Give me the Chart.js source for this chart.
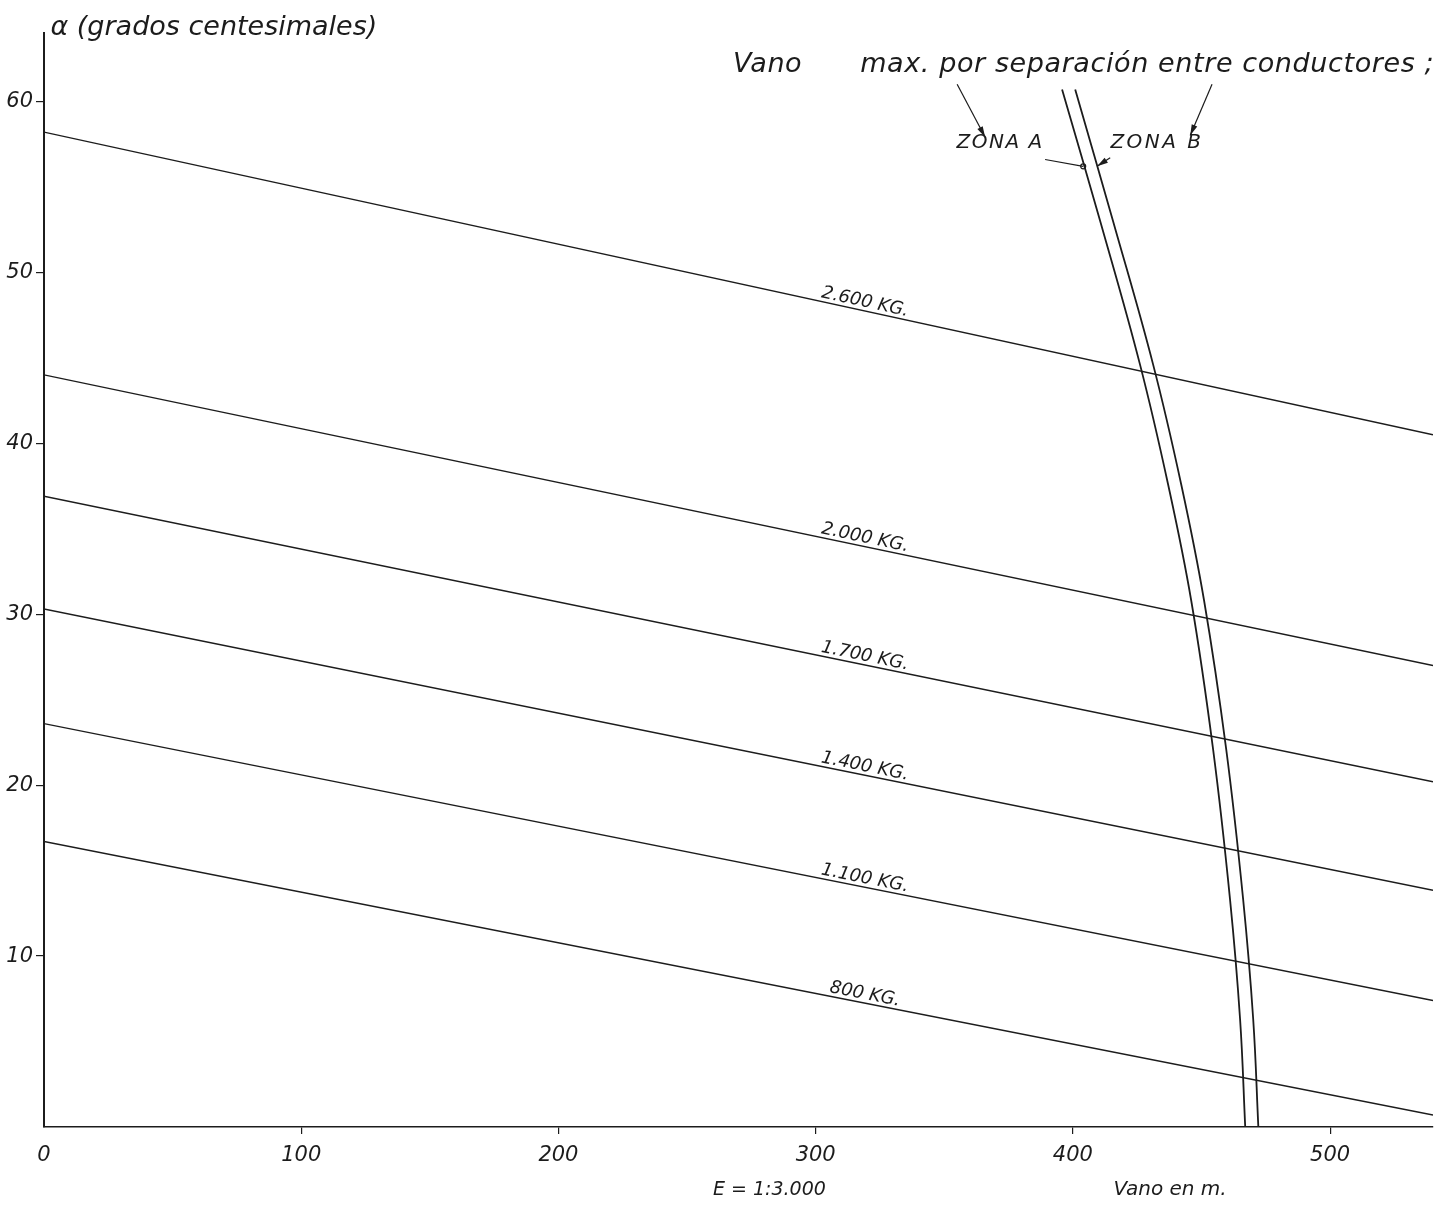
<!DOCTYPE html>
<html>
<head>
<meta charset="utf-8">
<script src="https://cdn.jsdelivr.net/npm/chart.js@4.4.1/dist/chart.umd.min.js"></script>
<style>
  html, body { margin: 0; padding: 0; background: #ffffff; }
  #wrap { width: 1442px; height: 1208px; position: relative; }
</style>
</head>
<body>
<div id="wrap"><canvas id="chart"></canvas></div>
<script>
// Span (m) at the two ends of every tension line
const spanEnds = [0, 540];

// Tension lines: angle α (grados centesimales) at span 0 m and at span 540 m
const tensionLabels = ['2.600 KG.', '2.000 KG.', '1.700 KG.', '1.400 KG.', '1.100 KG.', '800 KG.'];
const alphaAtStart  = [58.2, 44.0, 36.9, 30.3, 23.6, 16.7];
const alphaAtEnd    = [40.5, 27.0, 20.2, 13.85, 7.4, 0.7];

// Maximum span allowed by conductor separation, zone A and zone B
const zoneASpan  = [395.8, 410.6, 426.1, 437.0, 446.0, 454.5, 461.1, 465.0, 467.0];
const zoneAAlpha = [60.7, 53.0, 44.6, 37.6, 30.8, 22.1, 13.3, 6.3, 0];
const zoneBSpan  = [400.9, 415.6, 431.2, 442.1, 451.0, 459.6, 466.2, 470.1, 472.1];
const zoneBAlpha = [60.7, 53.0, 44.6, 37.6, 30.8, 22.1, 13.3, 6.3, 0];

// Axis ticks
const xTicks = [0, 100, 200, 300, 400, 500];
const yTicks = [10, 20, 30, 40, 50, 60];

const INK = '#1c1c1c';
const FAMILY = '"DejaVu Sans", "Liberation Sans", sans-serif';

const datasets = tensionLabels.map((name, i) => ({
  label: name,
  tensionLine: true,
  data: spanEnds.map((x, j) => ({ x, y: j === 0 ? alphaAtStart[i] : alphaAtEnd[i] })),
  showLine: true,
  borderColor: INK,
  borderWidth: 1.4,
  pointRadius: 0
}));

datasets.push({
  label: 'ZONA A',
  data: zoneASpan.map((x, i) => ({ x, y: zoneAAlpha[i] })),
  showLine: true, borderColor: INK, borderWidth: 1.8, pointRadius: 0, tension: 0.4
});
datasets.push({
  label: 'ZONA B',
  data: zoneBSpan.map((x, i) => ({ x, y: zoneBAlpha[i] })),
  showLine: true, borderColor: INK, borderWidth: 1.8, pointRadius: 0, tension: 0.4
});

// Labels, captions and pointers drawn on top of the plot
const notes = {
  id: 'notes',
  afterDatasetsDraw(chart) {
    const { ctx, scales: { x, y } } = chart;
    const px = v => x.getPixelForValue(v);
    const py = v => y.getPixelForValue(v);
    ctx.save();
    ctx.fillStyle = INK;
    ctx.strokeStyle = INK;

    // tension labels written along each line
    const labelSpan = 318.5;
    chart.data.datasets.forEach(ds => {
      if (!ds.tensionLine) return;
      const a = ds.data[0], b = ds.data[ds.data.length - 1];
      const t = (labelSpan - a.x) / (b.x - a.x);
      const yv = a.y + (b.y - a.y) * t;
      const ang = Math.atan2(py(b.y) - py(a.y), px(b.x) - px(a.x));
      ctx.save();
      ctx.translate(px(labelSpan), py(yv));
      ctx.rotate(ang);
      ctx.font = 'italic 18px ' + FAMILY;
      ctx.textAlign = 'center';
      ctx.textBaseline = 'alphabetic';
      ctx.fillText(ds.label, 0, -4);
      ctx.restore();
    });

    const text = (s, xv, yv, size, align, spacing) => {
      ctx.save();
      ctx.font = 'italic ' + size + 'px ' + FAMILY;
      ctx.textAlign = align || 'center';
      ctx.textBaseline = 'middle';
      if (spacing) ctx.letterSpacing = spacing + 'px';
      ctx.fillText(s, px(xv), py(yv));
      ctx.restore();
    };

    const arrow = (x1, y1, x2, y2, head) => {
      const X1 = px(x1), Y1 = py(y1), X2 = px(x2), Y2 = py(y2);
      ctx.lineWidth = 1.2;
      ctx.beginPath(); ctx.moveTo(X1, Y1); ctx.lineTo(X2, Y2); ctx.stroke();
      const ang = Math.atan2(Y2 - Y1, X2 - X1);
      if (head === 'arrow') {
        const L = 11, W = 3;
        ctx.beginPath();
        ctx.moveTo(X2, Y2);
        ctx.lineTo(X2 - L * Math.cos(ang) + W * Math.sin(ang), Y2 - L * Math.sin(ang) - W * Math.cos(ang));
        ctx.lineTo(X2 - L * Math.cos(ang) - W * Math.sin(ang), Y2 - L * Math.sin(ang) + W * Math.cos(ang));
        ctx.closePath();
        ctx.fill();
      } else if (head === 'dot') {
        ctx.beginPath(); ctx.arc(X2, Y2, 2.5, 0, Math.PI * 2); ctx.stroke();
      }
    };

    // heading over the zone curves
    text('Vano', 267.9, 62.1, 27, 'left', 0.5);
    text('max. por separación entre conductores ;', 317.3, 62.1, 27, 'left', 0.6);
    text('ZONA A', 371.7, 57.6, 20, 'center', 1.5);
    text('ZONA B', 432.7, 57.6, 20, 'center', 2.5);
    arrow(355.0, 61.0, 365.9, 57.9, 'arrow');
    arrow(454.1, 61.0, 445.6, 58.0, 'arrow');
    arrow(389.2, 56.6, 404.0, 56.2, 'dot');
    arrow(414.5, 56.7, 409.4, 56.2, 'arrow');

    // axis captions
    text('α (grados centesimales)', 2.5, 64.3, 27, 'left');
    text('E = 1:3.000', 282.0, -3.7, 19);
    text('Vano en m.', 437.8, -3.7, 20);
    ctx.restore();
  }
};

const tickFont = { family: FAMILY, size: 21, style: 'italic' };

new Chart(document.getElementById('chart'), {
  type: 'scatter',
  data: { datasets },
  options: {
    responsive: true,
    maintainAspectRatio: false,
    animation: false,
    events: [],
    layout: { padding: { top: 33, right: 9, left: 0, bottom: 0 } },
    plugins: { legend: { display: false }, tooltip: { enabled: false } },
    scales: {
      x: {
        type: 'linear', min: 0, max: 540,
        afterBuildTicks: s => { s.ticks = xTicks.map(v => ({ value: v })); },
        afterFit: s => { s.height = 81; },
        grid: {
          drawOnChartArea: false, drawTicks: true, tickLength: 7, lineWidth: 1.2,
          tickColor: c => (c.tick && c.tick.value === 0) ? 'rgba(0,0,0,0)' : INK
        },
        border: { display: true, color: INK, width: 1.6 },
        ticks: { color: INK, font: tickFont, padding: 9, maxRotation: 0, autoSkip: false }
      },
      y: {
        type: 'linear', min: 0, max: 64,
        afterBuildTicks: s => { s.ticks = yTicks.map(v => ({ value: v })); },
        afterFit: s => { s.width = 44; },
        grid: { drawOnChartArea: false, drawTicks: true, tickLength: 8, lineWidth: 1.2, tickColor: INK },
        border: { display: true, color: INK, width: 2 },
        ticks: { color: INK, font: tickFont, padding: 3, autoSkip: false }
      }
    }
  },
  plugins: [notes]
});
</script>
</body>
</html>
